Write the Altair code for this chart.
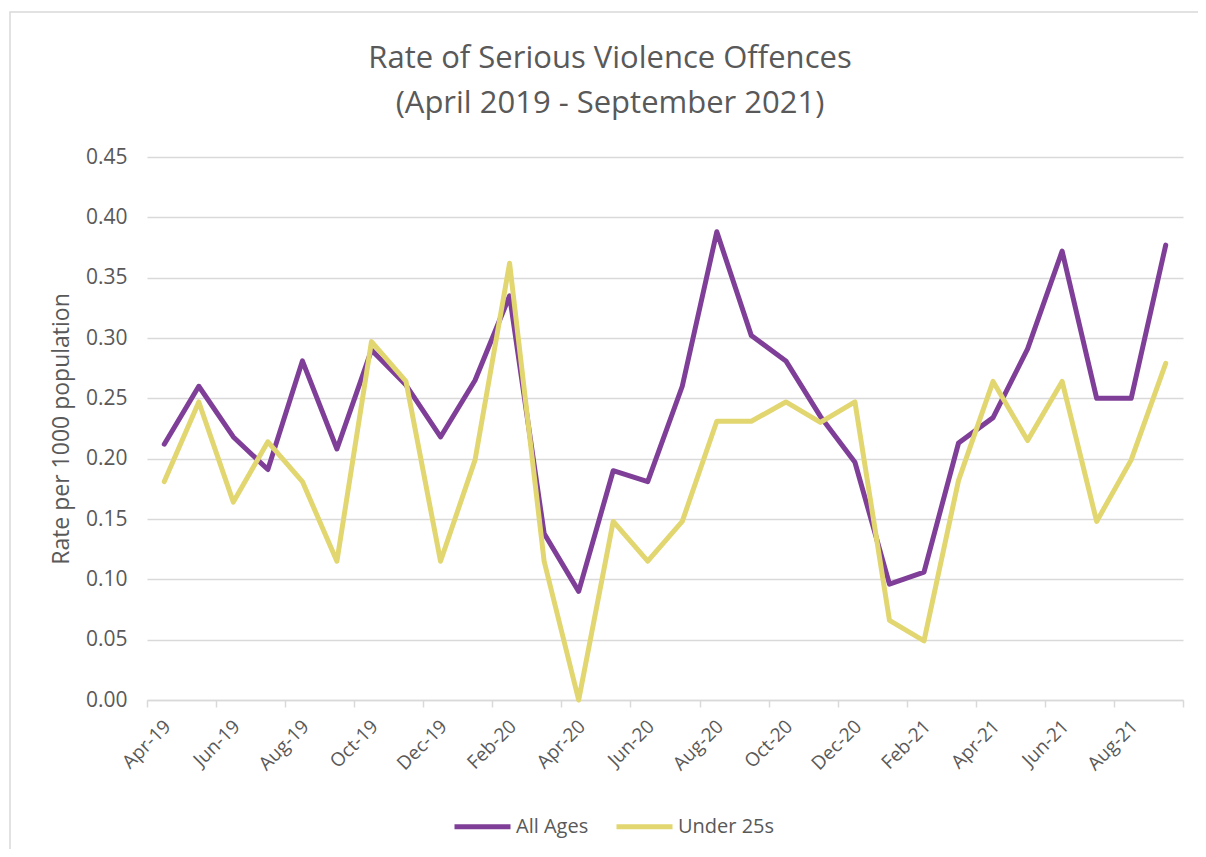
import json
import altair as alt
import pandas as pd

months = ["Apr-19", "May-19", "Jun-19", "Jul-19", "Aug-19", "Sep-19", "Oct-19", "Nov-19",
          "Dec-19", "Jan-20", "Feb-20", "Mar-20", "Apr-20", "May-20", "Jun-20", "Jul-20",
          "Aug-20", "Sep-20", "Oct-20", "Nov-20", "Dec-20", "Jan-21", "Feb-21", "Mar-21",
          "Apr-21", "May-21", "Jun-21", "Jul-21", "Aug-21", "Sep-21"]
all_ages = [0.212, 0.260, 0.218, 0.191, 0.281, 0.208, 0.290, 0.261, 0.218, 0.265,
            0.335, 0.138, 0.090, 0.190, 0.181, 0.260, 0.388, 0.302, 0.281, 0.235,
            0.197, 0.096, 0.106, 0.213, 0.234, 0.291, 0.372, 0.250, 0.250, 0.377]
under_25s = [0.181, 0.247, 0.164, 0.214, 0.181, 0.115, 0.297, 0.264, 0.115, 0.199,
             0.362, 0.115, 0.000, 0.148, 0.115, 0.148, 0.231, 0.231, 0.247, 0.230,
             0.247, 0.066, 0.049, 0.182, 0.264, 0.215, 0.264, 0.148, 0.199, 0.279]
series_names = ["All Ages", "Under 25s"]
series_colors = ["#7F3F98", "#E2D670"]
y_ticks = [0.0, 0.05, 0.10, 0.15, 0.20, 0.25, 0.30, 0.35, 0.40, 0.45]
title_lines = ["Rate of Serious Violence Offences", "(April 2019 - September 2021)"]

rows = []
for i, m in enumerate(months):
    rows.append({"idx": i, "month": m, "series": series_names[0], "value": all_ages[i]})
    rows.append({"idx": i, "month": m, "series": series_names[1], "value": under_25s[i]})
df = pd.DataFrame(rows)

W, H = 1036, 543
n = len(months)
step = W / n
FONT = "Open Sans"
GREY = "#595959"
LIGHT = "#d9d9d9"

label_expr = ("(datum.value + 0.5) < %d ? %s[datum.value + 0.5] : ''"
              % (n, json.dumps(months)))

x = alt.X(
    "idx:Q",
    scale=alt.Scale(domain=[-0.5, n - 0.5], nice=False, zero=False),
    axis=alt.Axis(
        title=None,
        values=[k - 0.5 for k in range(0, n + 1, 2)],
        labelExpr=label_expr,
        labelOffset=step / 2 + 3,
        labelAngle=-45,
        labelAlign="right",
        labelBaseline="middle",
        labelPadding=16,
        labelFont=FONT,
        labelFontSize=19,
        labelColor=GREY,
        grid=False,
        domainColor=LIGHT,
        domainWidth=1.5,
        tickColor=LIGHT,
        tickWidth=1.5,
        tickSize=7,
        labelOverlap=False,
        labelBound=False,
    ),
)
y = alt.Y(
    "value:Q",
    scale=alt.Scale(domain=[0, 0.45], nice=False),
    axis=alt.Axis(
        title="Rate per 1000 population",
        titleFont=FONT,
        titleFontSize=23,
        titleFontWeight="normal",
        titleColor=GREY,
        titlePadding=12,
        values=y_ticks,
        format=".2f",
        labelFont=FONT,
        labelFontSize=21,
        labelColor=GREY,
        labelPadding=20,
        domain=False,
        ticks=False,
        gridColor=LIGHT,
        gridWidth=1.5,
    ),
)
color = alt.Color(
    "series:N",
    scale=alt.Scale(domain=series_names, range=series_colors),
    title=None,
    legend=alt.Legend(
        orient="none",
        legendX=305,
        legendY=639,
        direction="horizontal",
        symbolType="stroke",
        symbolSize=3136,
        symbolStrokeWidth=5,
        labelFont=FONT,
        labelFontSize=20,
        labelColor=GREY,
        labelOffset=3,
        columnPadding=17,
        padding=0,
    ),
)

lines = alt.Chart(df).mark_line(strokeWidth=5, strokeCap="round", strokeJoin="round").encode(
    x=x, y=y, color=color, order="idx:Q"
)

frame = alt.Chart(alt.Data(values=[{"f": 1}])).mark_rect(
    fillOpacity=0, stroke=LIGHT, strokeWidth=1.5
).encode(
    x=alt.value(-137), x2=alt.value(1300), y=alt.value(-145), y2=alt.value(800)
)

title1 = alt.Chart(alt.Data(values=[{"t": title_lines[0]}])).mark_text(
    font=FONT, fontSize=31, color=GREY, align="center", baseline="alphabetic"
).encode(text="t:N", x=alt.value(610 - 147), y=alt.value(68 - 157))
title2 = alt.Chart(alt.Data(values=[{"t": title_lines[1]}])).mark_text(
    font=FONT, fontSize=31, color=GREY, align="center", baseline="alphabetic"
).encode(text="t:N", x=alt.value(610 - 147), y=alt.value(113 - 157))

chart = alt.layer(frame, title1, title2, lines).properties(
    width=W,
    height=H,
    padding={"left": 139, "top": 149, "right": 15, "bottom": 149},
    autosize=alt.AutoSizeParams(type="none"),
).configure_view(strokeWidth=0)

chart.save("out.html", embed_options={"renderer": "svg", "actions": False})
